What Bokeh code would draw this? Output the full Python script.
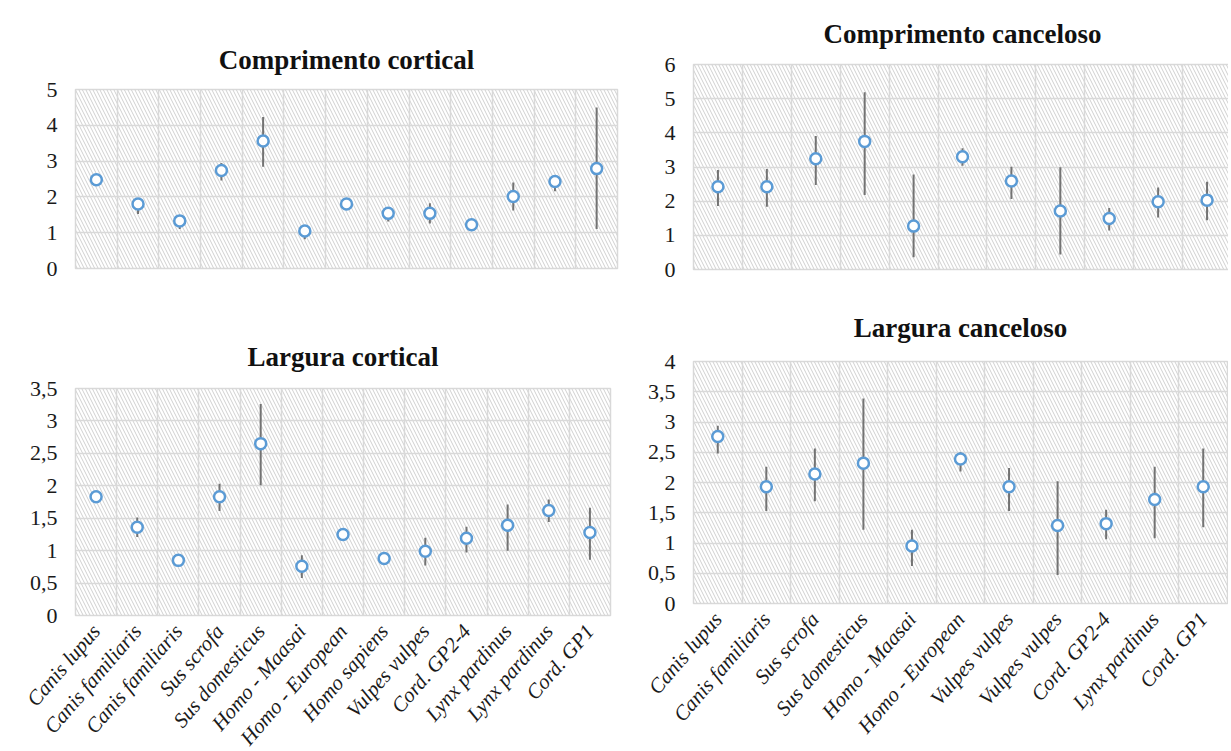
from bokeh.plotting import figure
from bokeh.layouts import row, column
from bokeh.models import FixedTicker, BoxAnnotation, Range1d, ColumnDataSource
from bokeh.embed import file_html
from bokeh.resources import INLINE

# ---------------- data ----------------
cats_left = ["Canis lupus", "Canis familiaris", "Canis familiaris", "Sus scrofa",
             "Sus domesticus", "Homo - Maasai", "Homo - European", "Homo sapiens",
             "Vulpes vulpes", "Cord. GP2-4", "Lynx pardinus", "Lynx pardinus", "Cord. GP1"]
cats_right = ["Canis lupus", "Canis familiaris", "Sus scrofa", "Sus domesticus",
              "Homo - Maasai", "Homo - European", "Vulpes vulpes", "Vulpes vulpes",
              "Cord. GP2-4", "Lynx pardinus", "Cord. GP1"]

# Comprimento cortical: value, error-bar low end, error-bar high end
cc_val = [2.48, 1.80, 1.33, 2.74, 3.56, 1.05, 1.80, 1.54, 1.54, 1.22, 2.01, 2.43, 2.79]
cc_lo = [2.45, 1.52, 1.10, 2.46, 2.84, 0.82, 1.75, 1.31, 1.26, 1.15, 1.62, 2.16, 1.10]
cc_hi = [2.52, 1.96, 1.45, 2.95, 4.23, 1.20, 1.85, 1.71, 1.82, 1.29, 2.40, 2.58, 4.50]

# Comprimento canceloso
cn_val = [2.42, 2.42, 3.24, 3.75, 1.27, 3.30, 2.59, 1.71, 1.49, 1.98, 2.03]
cn_lo = [1.86, 1.84, 2.47, 2.18, 0.36, 3.04, 2.06, 0.44, 1.14, 1.52, 1.44]
cn_hi = [2.91, 2.94, 3.91, 5.19, 2.78, 3.55, 3.01, 2.99, 1.80, 2.40, 2.57]

# Largura cortical
lc_val = [1.83, 1.36, 0.85, 1.83, 2.65, 0.76, 1.25, 0.88, 0.99, 1.19, 1.39, 1.62, 1.28]
lc_lo = [1.75, 1.21, 0.80, 1.61, 2.01, 0.58, 1.22, 0.83, 0.77, 0.97, 1.00, 1.44, 0.86]
lc_hi = [1.86, 1.51, 0.88, 2.03, 3.26, 0.93, 1.28, 0.92, 1.20, 1.37, 1.71, 1.79, 1.66]

# Largura canceloso
ln_val = [2.76, 1.93, 2.14, 2.32, 0.95, 2.39, 1.93, 1.29, 1.32, 1.72, 1.93]
ln_lo = [2.48, 1.53, 1.69, 1.22, 0.62, 2.18, 1.53, 0.47, 1.06, 1.08, 1.26]
ln_hi = [2.94, 2.26, 2.56, 3.39, 1.22, 2.50, 2.24, 2.02, 1.55, 2.26, 2.56]

yt_cc = [0, 1, 2, 3, 4, 5]
yl_cc = ["0", "1", "2", "3", "4", "5"]
yt_cn = [0, 1, 2, 3, 4, 5, 6]
yl_cn = ["0", "1", "2", "3", "4", "5", "6"]
yt_lc = [0, 0.5, 1, 1.5, 2, 2.5, 3, 3.5]
yl_lc = ["0", "0,5", "1", "1,5", "2", "2,5", "3", "3,5"]
yt_ln = [0, 0.5, 1, 1.5, 2, 2.5, 3, 3.5, 4]
yl_ln = ["0", "0,5", "1", "1,5", "2", "2,5", "3", "3,5", "4"]

FONT = "Liberation Serif"
GRID = "#d9d9d9"


def make(title, cats, val, lo, hi, yticks, ylabels, show_x,
         fw, fh, bl, br, bt, bb, standoff):
    n = len(cats)
    p = figure(frame_width=fw, frame_height=fh,
               min_border_left=bl, min_border_right=br,
               min_border_top=bt, min_border_bottom=bb,
               x_range=Range1d(0, n), y_range=Range1d(0, yticks[-1]),
               output_backend="svg", toolbar_location=None, title=title)
    p.background_fill_color = "white"
    p.border_fill_color = "white"
    p.outline_line_color = GRID
    p.outline_line_width = 1.5

    hatch = BoxAnnotation(fill_alpha=0, line_alpha=0, hatch_pattern="\\",
                          hatch_color="#d0d0d0", hatch_scale=7, hatch_weight=1,
                          level="image")
    p.add_layout(hatch)

    p.title.text_font = FONT
    p.title.text_font_style = "bold"
    p.title.text_font_size = "27px"
    p.title.text_color = "#111111"
    p.title.align = "center"
    p.title.standoff = standoff

    xs = [i + 0.5 for i in range(n)]
    src = ColumnDataSource(dict(x=xs, y=val, lo=lo, hi=hi))

    p.xgrid.ticker = FixedTicker(ticks=list(range(n + 1)))
    p.ygrid.ticker = FixedTicker(ticks=yticks)
    for g in (p.xgrid, p.ygrid):
        g.grid_line_color = GRID
        g.grid_line_width = 1.5

    p.yaxis.ticker = FixedTicker(ticks=yticks)
    p.yaxis.major_label_overrides = dict(zip(yticks, ylabels))
    p.yaxis.axis_line_color = None
    p.yaxis.major_tick_line_color = None
    p.yaxis.minor_tick_line_color = None
    p.yaxis.major_label_text_font = FONT
    p.yaxis.major_label_text_font_size = "22px"
    p.yaxis.major_label_text_color = "#1a1a1a"
    p.yaxis.major_label_standoff = 12

    if show_x:
        p.xaxis.ticker = FixedTicker(ticks=xs)
        p.xaxis.major_label_overrides = dict(zip(xs, cats))
        p.xaxis.axis_line_color = None
        p.xaxis.major_tick_line_color = None
        p.xaxis.minor_tick_line_color = None
        p.xaxis.major_label_text_font = FONT
        p.xaxis.major_label_text_font_style = "italic"
        p.xaxis.major_label_text_font_size = "21px"
        p.xaxis.major_label_text_color = "#1a1a1a"
        p.xaxis.major_label_orientation = 0.86
        p.xaxis.major_label_standoff = 6
    else:
        p.xaxis.visible = False

    p.segment(x0="x", y0="lo", x1="x", y1="hi", source=src,
              line_color="#737373", line_width=2)
    p.scatter(x="x", y="y", source=src, marker="circle", size=11,
              fill_color="white", line_color="#5b9bd5", line_width=2.5)
    return p


p_tl = make("Comprimento cortical", cats_left, cc_val, cc_lo, cc_hi, yt_cc, yl_cc, False,
            542, 179, 75, 11, 89, 32, 29)
p_bl = make("Largura cortical", cats_left, lc_val, lc_lo, lc_hi, yt_lc, yl_lc, True,
            535, 227, 68, 25, 88, 134, 34)
p_tr = make("Comprimento canceloso", cats_right, cn_val, cn_lo, cn_hi, yt_cn, yl_cn, False,
            538, 205, 61, 1, 63, 12, 32)
p_br = make("Largura canceloso", cats_right, ln_val, ln_lo, ln_hi, yt_ln, yl_ln, True,
            534, 242, 65, 1, 80, 147, 38)

layout = row(column(p_tl, p_bl), column(p_tr, p_br))

with open("out.html", "w") as f:
    f.write(file_html(layout, INLINE))
